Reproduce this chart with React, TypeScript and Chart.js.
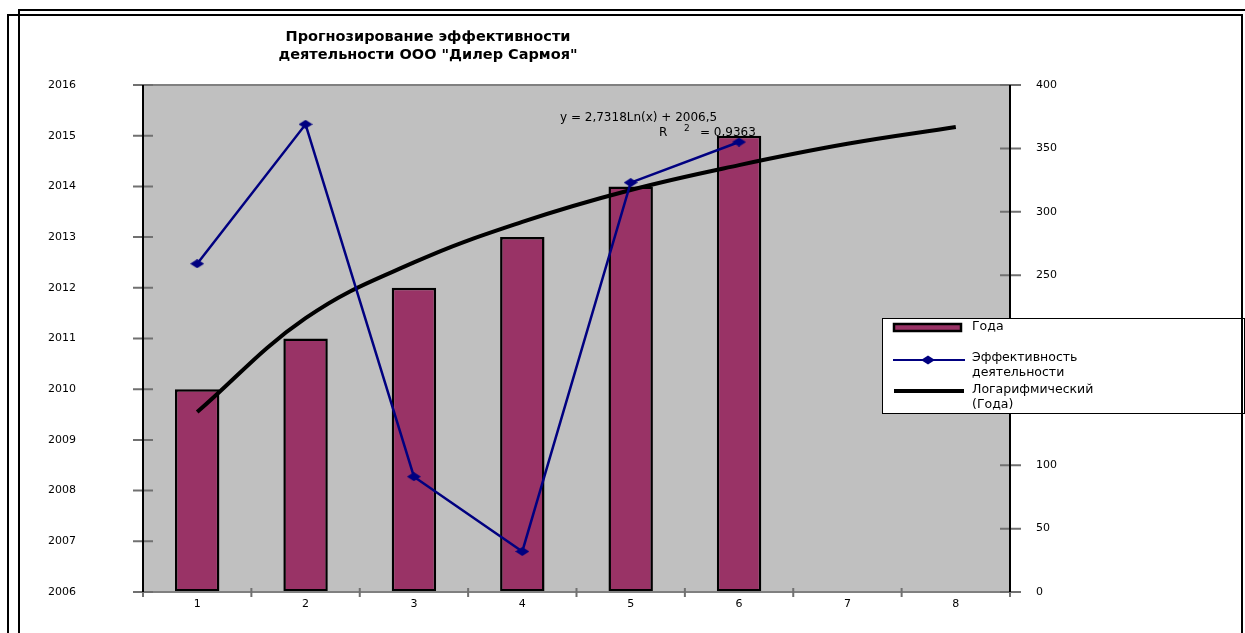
import React, { useEffect, useRef } from 'react';
import { Chart, registerables } from 'chart.js';

Chart.register(...registerables);

const categories = ['1', '2', '3', '4', '5', '6', '7', '8'];
const years = [2010, 2011, 2012, 2013, 2014, 2015, null, null];
const efficiency = [259, 369, 91, 32, 323, 355, null, null];
const trendYears = [2009.55, 2011.4, 2012.5, 2013.3, 2013.93, 2014.42, 2014.84, 2015.17];
const titleLines = ['Прогнозирование эффективности', 'деятельности ООО "Дилер Сармоя"'];
const equationLine = 'y = 2,7318Ln(x) + 2006,5';
const r2Value = '= 0,9363';
const seriesNames = ['Года', 'Эффективность деятельности', 'Логарифмический (Года)'];
const legendLines = [['Года'], ['Эффективность', 'деятельности'], ['Логарифмический', '(Года)']];

const FONT = '"DejaVu Sans", "Liberation Sans", Arial, sans-serif';
const BAR_COLOR = '#993366';
const LINE_COLOR = '#000080';

function makeDiamond(w: number, h: number, color: string): HTMLCanvasElement {
  const c = document.createElement('canvas');
  c.width = w;
  c.height = h;
  const g = c.getContext('2d')!;
  g.fillStyle = color;
  g.beginPath();
  g.moveTo(0, h / 2);
  g.lineTo(w / 2, 0);
  g.lineTo(w, h / 2);
  g.lineTo(w / 2, h);
  g.closePath();
  g.fill();
  return c;
}

const decorPlugin = {
  id: 'decor',
  beforeDraw(chart: any) {
    const { ctx, chartArea: a } = chart;
    ctx.save();
    ctx.fillStyle = '#ffffff';
    ctx.fillRect(0, 0, chart.width, chart.height);
    ctx.fillStyle = '#c0c0c0';
    ctx.fillRect(a.left, a.top, a.right - a.left, a.bottom - a.top);
    ctx.restore();
  },
  beforeDatasetsDraw(chart: any) {
    const { ctx } = chart;
    ctx.save();
    ctx.fillStyle = '#000';
    ctx.textBaseline = 'middle';
    ctx.textAlign = 'left';
    ctx.font = `12px ${FONT}`;
    ctx.fillText(equationLine, 560, 118);
    ctx.fillText('R', 659, 133);
    ctx.fillText(r2Value, 700, 133);
    ctx.font = `9px ${FONT}`;
    ctx.fillText('2', 684, 129);
    ctx.restore();
  },
  afterDraw(chart: any) {
    const { ctx, chartArea: a, scales } = chart;
    ctx.save();
    // plot top border
    ctx.strokeStyle = '#808080';
    ctx.lineWidth = 2;
    ctx.beginPath();
    ctx.moveTo(a.left - 10, a.top);
    ctx.lineTo(a.right, a.top);
    ctx.stroke();
    // x axis line (extends past both axes)
    ctx.beginPath();
    ctx.moveTo(a.left - 10, a.bottom);
    ctx.lineTo(a.right + 10, a.bottom);
    ctx.stroke();
    // crossing tick marks
    ctx.strokeStyle = '#707070';
    ctx.lineWidth = 2;
    ctx.beginPath();
    scales.y.ticks.forEach((t: any) => {
      const y = scales.y.getPixelForValue(t.value);
      ctx.moveTo(a.left - 10, y);
      ctx.lineTo(a.left + 10, y);
    });
    scales.y1.ticks.forEach((t: any) => {
      const y = scales.y1.getPixelForValue(t.value);
      ctx.moveTo(a.right - 10, y);
      ctx.lineTo(a.right + 11, y);
    });
    const n = categories.length;
    for (let k = 0; k <= n; k++) {
      const x = a.left + ((a.right - a.left) * k) / n;
      ctx.moveTo(x, a.bottom - 4);
      ctx.lineTo(x, a.bottom + 5);
    }
    ctx.stroke();
    // value axis lines
    ctx.strokeStyle = '#000';
    ctx.lineWidth = 2;
    ctx.beginPath();
    ctx.moveTo(a.left, a.top);
    ctx.lineTo(a.left, a.bottom);
    ctx.moveTo(a.right, a.top);
    ctx.lineTo(a.right, a.bottom);
    ctx.stroke();

    // title
    ctx.fillStyle = '#000';
    ctx.textAlign = 'center';
    ctx.textBaseline = 'middle';
    ctx.font = `bold 14.5px ${FONT}`;
    ctx.fillText(titleLines[0], 428, 37);
    ctx.fillText(titleLines[1], 428, 55);

    // legend
    const lx = 882, ly = 318, lw = 362, lh = 95;
    ctx.fillStyle = '#fff';
    ctx.fillRect(lx, ly, lw, lh);
    ctx.strokeStyle = '#000';
    ctx.lineWidth = 1;
    ctx.strokeRect(lx + 0.5, ly + 0.5, lw, lh);
    ctx.fillStyle = BAR_COLOR;
    ctx.fillRect(894, 324, 67, 7);
    ctx.lineWidth = 2.5;
    ctx.strokeRect(894, 324, 67, 7);
    ctx.strokeStyle = LINE_COLOR;
    ctx.lineWidth = 2;
    ctx.beginPath();
    ctx.moveTo(893, 360);
    ctx.lineTo(965, 360);
    ctx.stroke();
    ctx.fillStyle = LINE_COLOR;
    ctx.beginPath();
    ctx.moveTo(921, 360);
    ctx.lineTo(928, 355.5);
    ctx.lineTo(935, 360);
    ctx.lineTo(928, 364.5);
    ctx.closePath();
    ctx.fill();
    ctx.strokeStyle = '#000';
    ctx.lineWidth = 4;
    ctx.beginPath();
    ctx.moveTo(894, 391);
    ctx.lineTo(964, 391);
    ctx.stroke();
    ctx.fillStyle = '#000';
    ctx.textAlign = 'left';
    ctx.font = `12.5px ${FONT}`;
    ctx.fillText(legendLines[0][0], 972, 327);
    ctx.fillText(legendLines[1][0], 972, 358);
    ctx.fillText(legendLines[1][1], 972, 373);
    ctx.fillText(legendLines[2][0], 972, 390);
    ctx.fillText(legendLines[2][1], 972, 405);

    // outer frames
    ctx.strokeStyle = '#000';
    ctx.lineWidth = 2;
    ctx.beginPath();
    ctx.moveTo(8, chart.height + 5);
    ctx.lineTo(8, 15);
    ctx.lineTo(1242, 15);
    ctx.lineTo(1242, chart.height + 5);
    ctx.stroke();
    ctx.beginPath();
    ctx.moveTo(19, chart.height + 5);
    ctx.lineTo(19, 10);
    ctx.lineTo(chart.width + 5, 10);
    ctx.stroke();
    ctx.restore();
  },
};

export default function App() {
  const canvasRef = useRef<HTMLCanvasElement | null>(null);

  useEffect(() => {
    if (!canvasRef.current) return;
    const tickFont = { family: FONT, size: 11 };
    const diamond = makeDiamond(14, 9, LINE_COLOR);
    const chart = new Chart(canvasRef.current, {
      type: 'bar',
      data: {
        labels: categories,
        datasets: [
          {
            type: 'line',
            label: seriesNames[2],
            data: trendYears,
            yAxisID: 'y',
            borderColor: '#000',
            borderWidth: 4,
            pointRadius: 0,
            tension: 0.4,
            fill: false,
            order: 1,
          } as any,
          {
            type: 'line',
            label: seriesNames[1],
            data: efficiency,
            yAxisID: 'y1',
            borderColor: LINE_COLOR,
            backgroundColor: LINE_COLOR,
            borderWidth: 2.5,
            pointStyle: diamond,
            pointRadius: 5,
            pointBorderWidth: 0,
            tension: 0,
            fill: false,
            order: 0,
          } as any,
          {
            type: 'bar',
            label: seriesNames[0],
            data: years,
            yAxisID: 'y',
            base: 2006,
            backgroundColor: BAR_COLOR,
            borderColor: '#000',
            borderWidth: 2.5,
            borderSkipped: false,
            categoryPercentage: 1,
            barPercentage: 0.41,
            order: 2,
          } as any,
        ],
      },
      options: {
        responsive: false,
        animation: false,
        devicePixelRatio: 1,
        layout: { padding: { top: 85, left: 0, right: 0, bottom: 0 } },
        plugins: {
          legend: { display: false },
          title: { display: false },
          tooltip: { enabled: false },
        },
        scales: {
          x: {
            type: 'category',
            offset: true,
            grid: { display: false, drawTicks: false },
            border: { display: true, color: '#808080', width: 2 },
            ticks: { font: tickFont, color: '#000', padding: 6, maxRotation: 0 },
            afterFit: (s: any) => { s.height = 41; },
          },
          y: {
            position: 'left',
            min: 2006,
            max: 2016,
            grid: { display: true, drawOnChartArea: false, drawTicks: true, tickLength: 60, tickColor: 'rgba(0,0,0,0)' },
            border: { display: true, color: '#000', width: 2 },
            ticks: { stepSize: 1, font: tickFont, color: '#000', padding: 7, callback: (v: any) => String(v) },
            afterFit: (s: any) => { s.width = 143; },
          },
          y1: {
            position: 'right',
            min: 0,
            max: 400,
            grid: { display: true, drawOnChartArea: false, drawTicks: true, tickLength: 20, tickColor: 'rgba(0,0,0,0)' },
            border: { display: true, color: '#000', width: 2 },
            ticks: { stepSize: 50, font: tickFont, color: '#000', padding: 6, callback: (v: any) => String(v) },
            afterFit: (s: any) => { s.width = 235; },
          },
        },
      } as any,
      plugins: [decorPlugin],
    });
    return () => chart.destroy();
  }, []);

  return (
    <div style={{ position: 'absolute', left: 0, top: 0, width: 1245, height: 633, background: '#fff' }}>
      <canvas ref={canvasRef} width={1245} height={633} style={{ display: 'block', width: 1245, height: 633 }} />
    </div>
  );
}
